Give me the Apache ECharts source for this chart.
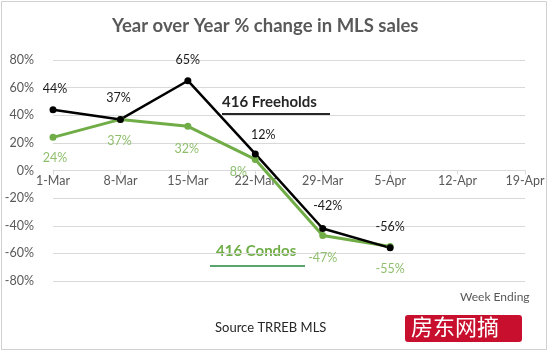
<!DOCTYPE html>
<html><head><meta charset="utf-8">
<script src="https://cdn.jsdelivr.net/npm/echarts@6/dist/echarts.min.js"></script>
<style>html,body{margin:0;padding:0;background:#fff}#c{width:548px;height:351px}</style>
</head><body><div id="c"></div>
<script>
var categories = ['1-Mar','8-Mar','15-Mar','22-Mar','29-Mar','5-Apr','12-Apr','19-Apr'];
var freeholds = [44, 37, 65, 12, -42, -56];
var condos = [24, 37, 32, 8, -47, -55];
var yTicks = [-80, -60, -40, -20, 0, 20, 40, 60, 80];

var fhOffsets = [[2,-6],[-2,-6],[0,-6],[8,-4],[5,-8],[0,-6]];
var cdOffsets = [[2,6],[-1,7],[-1,8],[-17,-2],[0,8],[0,7]];
var FONT = 'Lato, "Open Sans", sans-serif';

var chart = echarts.init(document.getElementById('c'), null, {renderer:'canvas'});
chart.setOption({
  animation: false,
  backgroundColor: '#fff',
  title: {
    text: 'Year over Year % change in MLS sales',
    left: 107, top: 12,
    textStyle: {fontFamily: FONT, fontSize: 18.5, fontWeight: 'bold', color: '#595959'}
  },
  grid: {left: 53, right: 23, top: 60, bottom: 70},
  xAxis: {
    type: 'category', data: categories, boundaryGap: false,
    position: 'bottom', offset: -110.5,
    axisLine: {onZero: false, lineStyle: {color: '#d9d9d9'}},
    axisTick: {show: true, length: 4, lineStyle: {color: '#d9d9d9'}},
    axisLabel: {fontFamily: FONT, fontSize: 12.5, color: '#595959', margin: 4, interval: 0}
  },
  yAxis: {
    type: 'value', min: yTicks[0], max: yTicks[yTicks.length-1], interval: 20,
    axisLine: {show: false}, axisTick: {show: false},
    axisLabel: {fontFamily: FONT, fontSize: 12.5, color: '#595959', margin: 19, formatter: '{value}%'},
    splitLine: {lineStyle: {color: '#d9d9d9'}}
  },
  series: [
    {
      type: 'line', name: '416 Condos',
      data: condos.map(function(v,i){return {value: v, label: {offset: cdOffsets[i]}};}),
      lineStyle: {color: '#70ad47', width: 3},
      itemStyle: {color: '#70ad47'},
      symbol: 'circle', symbolSize: 7,
      label: {show: true, position: 'bottom', formatter: '{c}%', color: '#8fbf6e', fontFamily: FONT, fontSize: 12.5}
    },
    {
      type: 'line', name: '416 Freeholds',
      data: freeholds.map(function(v,i){return {value: v, label: {offset: fhOffsets[i]}};}),
      lineStyle: {color: '#000', width: 2.5},
      itemStyle: {color: '#000'},
      symbol: 'circle', symbolSize: 7,
      label: {show: true, position: 'top', formatter: '{c}%', color: '#1a1a1a', fontFamily: FONT, fontSize: 12.5}
    }
  ],
  graphic: [
    {type: 'rect', shape: {x: 1.5, y: 1.5, width: 545, height: 348}, style: {fill: 'none', stroke: '#d0d0d0', lineWidth: 1}, z: -1},
    {type: 'text', left: 222, top: 95, style: {text: '416 Freeholds', font: 'bold 15px ' + FONT, fill: '#262626'}},
    {type: 'line', shape: {x1: 222, y1: 114, x2: 330, y2: 114}, style: {stroke: '#262626', lineWidth: 2}},
    {type: 'text', left: 216, top: 244, style: {text: '416 Condos', font: 'bold 15px ' + FONT, fill: '#70ad47'}},
    {type: 'line', shape: {x1: 210, y1: 266, x2: 305, y2: 266}, style: {stroke: '#5aa56e', lineWidth: 2}},
    {type: 'text', left: 460, top: 291, style: {text: 'Week Ending', font: '12px ' + FONT, fill: '#595959'}},
    {type: 'text', left: 215, top: 321, style: {text: 'Source TRREB MLS', font: '13px ' + FONT, fill: '#262626'}},
    {type: 'rect', shape: {x: 405, y: 315, width: 117, height: 27, r: 3}, style: {fill: '#c8102e'}},
    {type: 'text', left: 411, top: 316, style: {text: '房东网摘', font: '22px "Noto Sans CJK SC"', fill: '#fff'}}
  ]
});
</script></body></html>
